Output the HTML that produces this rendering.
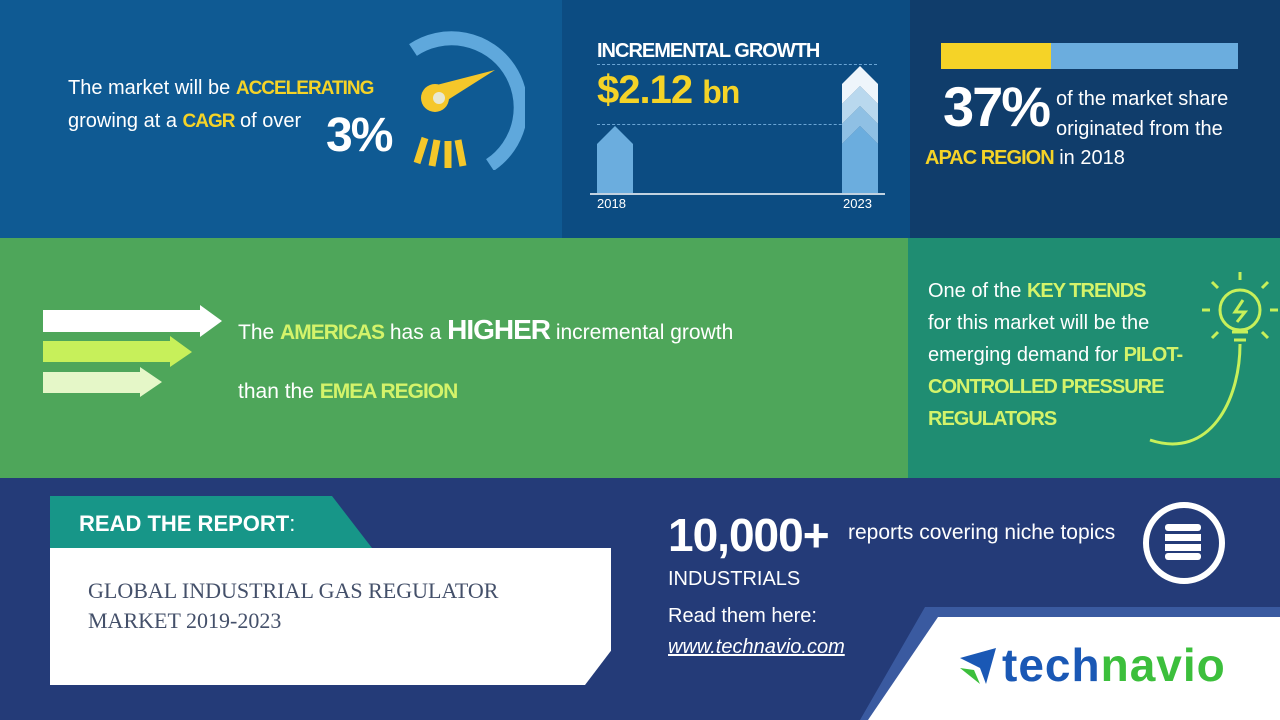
<!DOCTYPE html><html><head><style>
body{margin:0;width:1280px;height:720px;overflow:hidden;font-family:"Liberation Sans",sans-serif;position:relative}
div{position:absolute}
.c{font-weight:bold;letter-spacing:-1px}
.y{color:#f5d327}.g{color:#d4f36a}
</style></head><body>
<div style="left:0;top:0;width:562px;height:238px;background:#0f5a93"></div>
<div style="left:562px;top:0;width:348px;height:238px;background:#0c4c82"></div>
<div style="left:910px;top:0;width:370px;height:238px;background:#103d6b"></div>
<div style="left:0;top:238px;width:908px;height:240px;background:#4ea65a"></div>
<div style="left:908px;top:238px;width:372px;height:240px;background:#1f8d72"></div>
<div style="left:0;top:478px;width:1280px;height:242px;background:#243b78"></div>

<div style="left:68px;top:72px;color:#fff;font-size:20px;line-height:32px">The market will be <span class="c y" style="font-size:19px">ACCELERATING</span><br>growing at a <span class="c y" style="font-size:19px">CAGR</span> of over</div>
<div class="c" style="left:326px;top:108px;color:#fff;font-size:48px;letter-spacing:-2px">3%</div>
<svg style="position:absolute;left:395px;top:30px" width="130" height="140">
<path d="M18 20 A62 62 0 1 1 95 135" fill="none" stroke="#5fa8dc" stroke-width="14"/>
<path d="M30 58 L100 40 L40 78 Z" fill="#f5c72a"/><circle cx="40" cy="68" r="14" fill="#f5c72a"/><circle cx="44" cy="68" r="6" fill="#e8e8d0"/>
<g stroke="#f5c72a" stroke-width="7"><line x1="30" y1="108" x2="22" y2="133"/><line x1="42" y1="110" x2="37" y2="136"/><line x1="53" y1="111" x2="53" y2="138"/><line x1="63" y1="110" x2="68" y2="136"/></g>
</svg>

<div class="c" style="left:597px;top:40px;color:#fff;font-size:20px">INCREMENTAL GROWTH</div>
<div style="left:597px;top:64px;width:280px;border-top:1px dashed #6aa5d5"></div>
<div class="c y" style="left:597px;top:68px;font-size:40px">$2.12 <span style="font-size:32px">bn</span></div>
<div style="left:597px;top:124px;width:280px;border-top:1px dashed #6aa5d5"></div>
<svg style="position:absolute;left:590px;top:60px" width="300" height="140">
<path d="M7 133 V84 L25 66 L43 84 V133 Z" fill="#6badde"/>
<path d="M252 133 V84 L270 66 L288 84 V133 Z" fill="#6badde"/>
<path d="M252 84 V64 L270 46 L288 64 V84 L270 66 Z" fill="#8fc0e4"/>
<path d="M252 64 V44 L270 26 L288 44 V64 L270 46 Z" fill="#b9d8ee"/>
<path d="M252 44 V24 L270 6 L288 24 V44 L270 26 Z" fill="#eef5fb"/>
<line x1="0" y1="134" x2="295" y2="134" stroke="#fff" stroke-width="1.5"/>
</svg>
<div style="left:597px;top:196px;color:#fff;font-size:13px">2018</div>
<div style="left:843px;top:196px;color:#fff;font-size:13px">2023</div>

<div style="left:941px;top:43px;width:110px;height:26px;background:#f5d327"></div>
<div style="left:1051px;top:43px;width:187px;height:26px;background:#6badde"></div>
<div class="c" style="left:943px;top:74px;color:#fff;font-size:56px;letter-spacing:-2px">37%</div>
<div style="left:1056px;top:84px;color:#fff;font-size:20px;line-height:30px">of the market share<br>originated from the</div>
<div style="left:925px;top:147px;color:#fff;font-size:20px"><span class="c y">APAC REGION</span> in 2018</div>

<svg style="position:absolute;left:40px;top:305px" width="190" height="95">
<path d="M3 5 H160 V0 L182 16 L160 32 V27 H3 Z" fill="#fff"/>
<path d="M3 36 H130 V31 L152 47 L130 62 V57 H3 Z" fill="#c7f05a"/>
<path d="M3 67 H100 V62 L122 77 L100 92 V88 H3 Z" fill="#e5f7c8"/>
</svg>
<div style="left:238px;top:314px;color:#fff;font-size:21px">The <span class="c g">AMERICAS</span> has a <span class="c" style="font-size:28px">HIGHER</span> incremental growth</div>
<div style="left:238px;top:380px;color:#fff;font-size:21px">than the <span class="c g">EMEA REGION</span></div>

<div style="left:928px;top:275px;color:#fff;font-size:20px;line-height:32px">One of the <span class="c g">KEY TRENDS</span><br>for this market will be the<br>emerging demand for <span class="c g">PILOT-</span><br><span class="c g">CONTROLLED PRESSURE<br>REGULATORS</span></div>
<svg style="position:absolute;left:1140px;top:270px" width="140" height="190">
<g stroke="#c7f05a" stroke-width="3" fill="none"><circle cx="100" cy="40" r="20"/><path d="M92 62 H108 M94 70 H106"/><path d="M100 74 C100 130 70 190 10 170"/>
<path d="M70 40H62M138 40H130M100 10V2M78 18L72 12M122 18L128 12M78 62L72 68M122 62L128 68"/><path d="M103 30 L95 42 H105 L97 52"/></g></svg>

<div style="left:50px;top:496px;width:322px;height:52px;background:#179688;clip-path:polygon(0 0,282px 0,100% 100%,0 100%)"></div>
<div style="left:79px;top:511px;color:#fff;font-size:22px"><b>READ THE REPORT</b>:</div>
<div style="left:50px;top:548px;width:561px;height:137px;background:#fff;clip-path:polygon(0 0,100% 0,100% 75%,535px 100%,0 100%)"></div>
<div style="left:88px;top:576px;color:#44506a;font-family:'Liberation Serif',serif;font-size:22px;line-height:30px">GLOBAL INDUSTRIAL GAS REGULATOR<br>MARKET 2019-2023</div>

<div class="c" style="left:668px;top:508px;color:#fff;font-size:46px">10,000+</div>
<div style="left:848px;top:521px;color:#fff;font-size:21px">reports covering niche topics</div>
<div style="left:668px;top:568px;color:#fff;font-size:20px">INDUSTRIALS</div>
<div style="left:668px;top:605px;color:#fff;font-size:20px">Read them here:</div>
<div style="left:668px;top:636px;color:#fff;font-size:20px;font-style:italic;text-decoration:underline">www.technavio.com</div>
<div style="left:1143px;top:502px;width:70px;height:70px;border:6px solid #fff;border-radius:50%"></div>
<svg style="position:absolute;left:1163px;top:520px" width="40" height="44"><g fill="#fff"><rect x="2" y="4" width="36" height="7" rx="3"/><rect x="2" y="14" width="36" height="7"/><rect x="2" y="24" width="36" height="7"/><rect x="2" y="33" width="36" height="7" rx="3"/></g></svg>

<div style="left:860px;top:607px;width:420px;height:113px;background:#3a5aa0;clip-path:polygon(65px 0,100% 0,100% 100%,0 100%)"></div>
<div style="left:868px;top:617px;width:412px;height:103px;background:#fff;clip-path:polygon(70px 0,100% 0,100% 100%,0 100%)"></div>
<svg style="position:absolute;left:960px;top:648px" width="40" height="40"><path d="M0 10 L36 0 L26 36 L20 20 Z" fill="#1a58b5"/><path d="M0 20 L14 22 L20 36 Z" fill="#3cbf3c"/></svg>
<div style="left:1002px;top:638px;font-size:46px;font-weight:bold;letter-spacing:1px"><span style="color:#1a58b5">tech</span><span style="color:#3cbf3c">navio</span></div>
</body></html>
